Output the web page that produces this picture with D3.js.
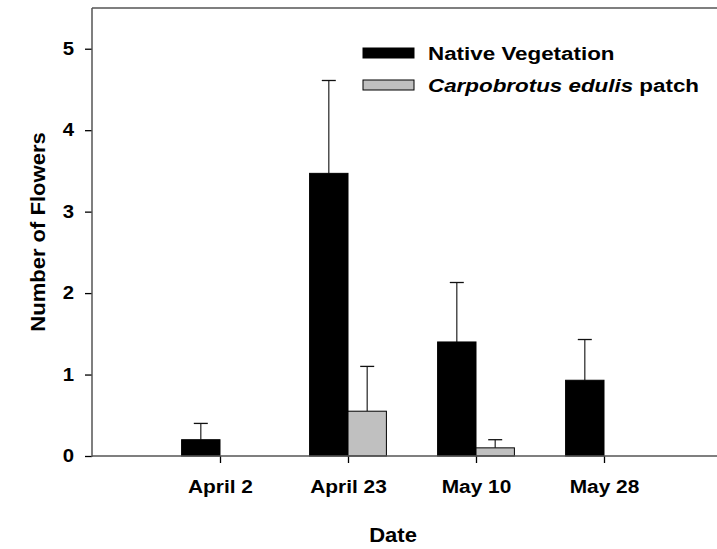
<!DOCTYPE html>
<html>
<head>
<meta charset="utf-8">
<script src="https://cdn.jsdelivr.net/npm/d3@7"></script>
<style>
  body { margin: 0; background: #fff; }
  svg text { font-family: "Liberation Sans", Arial, sans-serif; font-weight: bold; fill: #000; }
</style>
</head>
<body>
<div id="chart"></div>
<script>
var dates = ["April 2", "April 23", "May 10", "May 28"];
var nativeMean = [0.2, 3.47, 1.40, 0.93];
var nativeErr = [0.2, 1.14, 0.73, 0.50];
var carpoMean = [0, 0.55, 0.10, 0];
var carpoErr = [0, 0.55, 0.10, 0];
var yTicks = [0, 1, 2, 3, 4, 5];
var seriesNames = ["Native Vegetation", "Carpobrotus edulis"];

var width = 717, height = 549,
    plotLeft = 92, plotTop = 8, plotBottom = 456,
    stretch = 1.13;

var svg = d3.select("#chart").append("svg")
    .attr("width", width)
    .attr("height", height);

var xScale = d3.scaleLinear().domain([0, 5]).range([plotLeft, 732]);
var yScale = d3.scaleLinear().domain([0, 5.5]).range([plotBottom, plotTop]);
var barW = xScale(0.3) - xScale(0);

var series = [
  { name: seriesNames[0], mean: nativeMean, err: nativeErr, fill: "#000", off: -1 },
  { name: seriesNames[1], mean: carpoMean, err: carpoErr, fill: "#c0c0c0", off: 0 }
];

// top frame line
svg.append("line").attr("x1", plotLeft).attr("x2", width).attr("y1", plotTop).attr("y2", plotTop)
  .attr("stroke", "#555").attr("stroke-width", 1.5);

// bars + error bars (upper only)
series.forEach(function (s) {
  var g = svg.append("g");
  dates.forEach(function (d, i) {
    if (s.mean[i] <= 0) return;
    var bx = xScale(i + 1) + s.off * barW;
    var y1 = yScale(s.mean[i]);
    var y2 = yScale(s.mean[i] + s.err[i]);
    g.append("line")
      .attr("x1", bx + barW / 2).attr("x2", bx + barW / 2)
      .attr("y1", y1).attr("y2", y2)
      .attr("stroke", "#333").attr("stroke-width", 1.3);
    g.append("line")
      .attr("x1", bx + barW / 2 - 7).attr("x2", bx + barW / 2 + 7)
      .attr("y1", y2).attr("y2", y2)
      .attr("stroke", "#111").attr("stroke-width", 1.3);
    g.append("rect")
      .attr("x", bx).attr("y", y1)
      .attr("width", barW).attr("height", plotBottom - y1)
      .attr("fill", s.fill)
      .attr("stroke", "#000").attr("stroke-width", 1);
  });
});

// y axis
var yAxis = svg.append("g")
  .attr("transform", "translate(" + plotLeft + ",0)")
  .call(d3.axisLeft(yScale).tickValues(yTicks).tickFormat(d3.format("d")).tickSize(7));
yAxis.select(".domain").remove();
yAxis.append("line").attr("x1", 0).attr("x2", 0).attr("y1", plotTop).attr("y2", plotBottom + 1)
  .attr("stroke", "#555").attr("stroke-width", 1.5);
yAxis.selectAll(".tick line").attr("stroke", "#000").attr("stroke-width", 1.3);
yAxis.selectAll(".tick text")
  .style("font-size", "18px")
  .attr("x", null)
  .attr("transform", "translate(-18,0) scale(" + stretch + ",1)");

// x axis
var xAxis = svg.append("g")
  .attr("transform", "translate(0," + plotBottom + ")")
  .call(d3.axisBottom(xScale).tickValues([1, 2, 3, 4])
    .tickFormat(function (d) { return dates[d - 1]; }).tickSize(7));
xAxis.select(".domain").remove();
xAxis.append("line").attr("x1", plotLeft).attr("x2", width).attr("y1", 0).attr("y2", 0)
  .attr("stroke", "#555").attr("stroke-width", 1.5);
xAxis.selectAll(".tick line").attr("stroke", "#000").attr("stroke-width", 1.3);
xAxis.selectAll(".tick text")
  .style("font-size", "18.5px")
  .attr("y", null).attr("dy", null)
  .attr("transform", "translate(0,37) scale(" + stretch + ",1)");

// axis titles
svg.append("text")
  .attr("transform", "translate(393,542) scale(" + stretch + ",1)")
  .attr("text-anchor", "middle")
  .style("font-size", "19.5px")
  .text("Date");

svg.append("text")
  .attr("transform", "translate(45,232) rotate(-90) scale(" + stretch + ",1)")
  .attr("text-anchor", "middle")
  .style("font-size", "19.5px")
  .text("Number of Flowers");

// legend
var legend = svg.append("g");
series.forEach(function (s, i) {
  var ly = 48 + i * 32;
  legend.append("rect")
    .attr("x", 363).attr("y", ly).attr("width", 51).attr("height", 10)
    .attr("fill", s.fill).attr("stroke", "#000").attr("stroke-width", 1);
  var t = legend.append("text")
    .attr("transform", "translate(428," + (ly + 12) + ") scale(1.28,1)")
    .style("font-size", "17.5px");
  if (i === 0) {
    t.text(s.name);
  } else {
    t.append("tspan").style("font-style", "italic").text(s.name);
    t.append("tspan").text(" patch");
  }
});
</script>
</body>
</html>
